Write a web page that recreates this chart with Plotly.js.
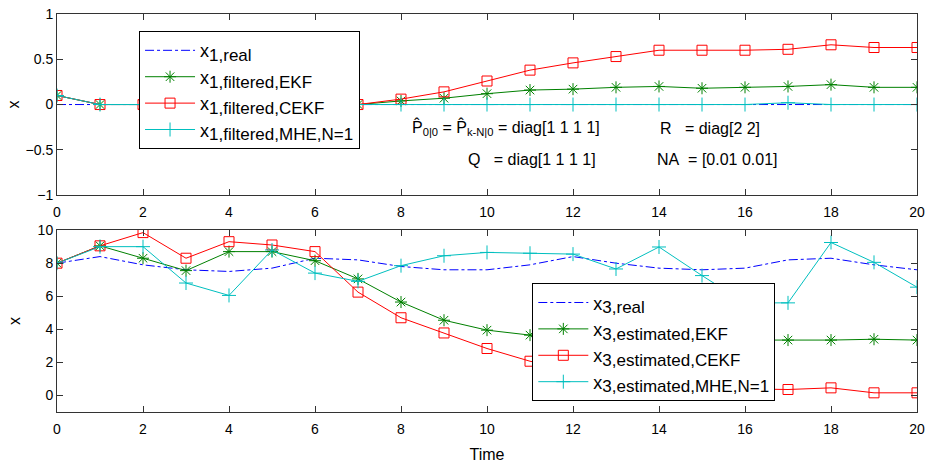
<!DOCTYPE html>
<html>
<head>
<meta charset="utf-8">
<script src="https://cdn.plot.ly/plotly-3.0.1.min.js"></script>
<style>html,body{margin:0;padding:0;background:#fff;}#chart{width:927px;height:463px;}</style>
</head>
<body>
<div id="chart"></div>
<script>
// ---- data ----
const time = [0,1,2,3,4,5,6,7,8,9,10,11,12,13,14,15,16,17,18,19,20];

const x1Real = [0,0,0,0,0,0,0,0,0,0,0,0,0,0,0,0,0,0,0,0,0];
const x1EKF  = [0.1,0,0,0,0,0,0,0,0.04,0.07,0.12,0.16,0.17,0.19,0.2,0.18,0.19,0.2,0.22,0.19,0.19];
const x1CEKF = [0.1,0,0,0,0,0,0,0,0.06,0.14,0.26,0.38,0.46,0.53,0.6,0.6,0.6,0.61,0.66,0.63,0.63];
const x1MHE  = [0.1,0,0,0,0,0,0,0,0,0,0,0,0,0,0,0,0,0.02,0,0,0];

const x3Real = [8.0,8.4,7.9,7.6,7.5,7.7,8.3,8.2,7.8,7.6,7.6,7.9,8.4,8.0,7.7,7.6,7.7,8.2,8.3,7.9,7.6];
const x3EKF  = [8.0,9.05,8.3,7.55,8.7,8.7,8.15,7.05,5.65,4.55,3.95,3.65,3.5,3.4,3.4,3.35,3.35,3.35,3.35,3.4,3.35];
const x3CEKF = [8.0,9.05,9.85,8.3,9.3,9.1,8.7,6.25,4.7,3.78,2.84,2.07,1.5,1.0,0.7,0.5,0.4,0.36,0.46,0.16,0.16];
const x3MHE  = [8.0,9.0,9.0,6.8,6.05,8.8,7.4,6.9,7.85,8.45,8.65,8.6,8.55,7.65,8.98,7.25,5.6,5.6,9.25,8.05,6.55];

const subs1 = ['1,real','1,filtered,EKF','1,filtered,CEKF','1,filtered,MHE,N=1'];
const subs3 = ['3,real','3,estimated,EKF','3,estimated,CEKF','3,estimated,MHE,N=1'];

const xTicks = [0,2,4,6,8,10,12,14,16,18,20];

// ---- styles ----
const BLUE='rgb(0,0,255)', GREEN='rgb(0,128,0)', RED='rgb(255,0,0)', CYAN='rgb(0,191,191)';
const FONT='Liberation Sans, Arial, sans-serif';
const legName = s => 'x<sub><span style="font-size:17px">'+s+'</span></sub>';

function mk(x,y,name,color,style,xa,ya,leg){
  const t={x:x,y:y,name:name,xaxis:xa,yaxis:ya,legend:leg,type:'scatter'};
  if(style==='real'){t.mode='lines';t.line={color:color,width:1,dash:'dashdot'};}
  else if(style==='ekf'){t.mode='lines+markers';t.line={color:color,width:1};t.marker={symbol:'asterisk-open',size:10,color:color,line:{color:color,width:1}};}
  else if(style==='cekf'){t.mode='lines+markers';t.line={color:color,width:1};t.marker={symbol:'square-open',size:10,color:color,line:{color:color,width:1}};}
  else {t.mode='lines+markers';t.line={color:color,width:1};t.marker={symbol:'cross-thin-open',size:10,color:color,line:{color:color,width:1}};}
  return t;
}

const data=[
  mk(time,x1Real,legName(subs1[0]),BLUE,'real','x','y','legend'),
  mk(time,x1EKF,legName(subs1[1]),GREEN,'ekf','x','y','legend'),
  mk(time,x1CEKF,legName(subs1[2]),RED,'cekf','x','y','legend'),
  mk(time,x1MHE,legName(subs1[3]),CYAN,'mhe','x','y','legend'),
  mk(time,x3Real,legName(subs3[0]),BLUE,'real','x2','y2','legend2'),
  mk(time,x3EKF,legName(subs3[1]),GREEN,'ekf','x2','y2','legend2'),
  mk(time,x3CEKF,legName(subs3[2]),RED,'cekf','x2','y2','legend2'),
  mk(time,x3MHE,legName(subs3[3]),CYAN,'mhe','x2','y2','legend2')
];

const axBase={showgrid:false,zeroline:false,showline:true,linecolor:'#333',linewidth:1,mirror:'ticks',
  ticks:'inside',ticklen:6,tickcolor:'#333',tickfont:{family:FONT,size:14,color:'#000'}};

const layout={
  width:927,height:463,paper_bgcolor:'#fff',plot_bgcolor:'#fff',
  margin:{l:57,r:10,t:14,b:51},
  font:{family:FONT,color:'#000'},
  xaxis:Object.assign({},axBase,{domain:[0,1],anchor:'y',range:[0,20],tickvals:xTicks,ticklabelstandoff:4}),
  yaxis:Object.assign({},axBase,{domain:[0.545,1],anchor:'x',range:[-1,1],tickvals:[-1,-0.5,0,0.5,1],
    title:{text:'x',font:{family:FONT,size:16},standoff:1}}),
  xaxis2:Object.assign({},axBase,{domain:[0,1],anchor:'y2',range:[0,20],tickvals:xTicks,ticklabelstandoff:4,
    title:{text:'Time',font:{family:FONT,size:16},standoff:13}}),
  yaxis2:Object.assign({},axBase,{domain:[0,0.457],anchor:'x2',range:[-1,10],tickvals:[0,2,4,6,8,10],
    title:{text:'x',font:{family:FONT,size:16},standoff:13}}),
  legend:{x:0.0954,y:0.957,xanchor:'left',yanchor:'top',bgcolor:'#fff',bordercolor:'#000',borderwidth:1,
    font:{family:FONT,size:18,color:'#000'},itemwidth:50,tracegroupgap:0},
  legend2:{x:0.5527,y:0.3234,xanchor:'left',yanchor:'top',bgcolor:'#fff',bordercolor:'#000',borderwidth:1,
    font:{family:FONT,size:18,color:'#000'},itemwidth:50,tracegroupgap:0},
  annotations:[
    {xref:'x',yref:'y',x:8.21,y:-0.25,xanchor:'left',yanchor:'middle',showarrow:false,
      text:'P\u0302<sub>0|0</sub> = P\u0302<sub>k-N|0</sub> = diag[1 1 1 1]',font:{family:FONT,size:16,color:'#000'}},
    {xref:'x',yref:'y',x:13.98,y:-0.268,xanchor:'left',yanchor:'middle',showarrow:false,
      text:'R\u00a0\u00a0\u00a0= diag[2 2]',font:{family:FONT,size:16,color:'#000'}},
    {xref:'x',yref:'y',x:9.51,y:-0.611,xanchor:'left',yanchor:'middle',showarrow:false,
      text:'Q\u00a0\u00a0\u00a0= diag[1 1 1 1]',font:{family:FONT,size:16,color:'#000'}},
    {xref:'x',yref:'y',x:13.91,y:-0.611,xanchor:'left',yanchor:'middle',showarrow:false,
      text:'NA\u00a0\u00a0= [0.01 0.01]',font:{family:FONT,size:16,color:'#000'}}
  ]
};

Plotly.newPlot('chart',data,layout,{displayModeBar:false,staticPlot:true});
</script>
</body>
</html>
